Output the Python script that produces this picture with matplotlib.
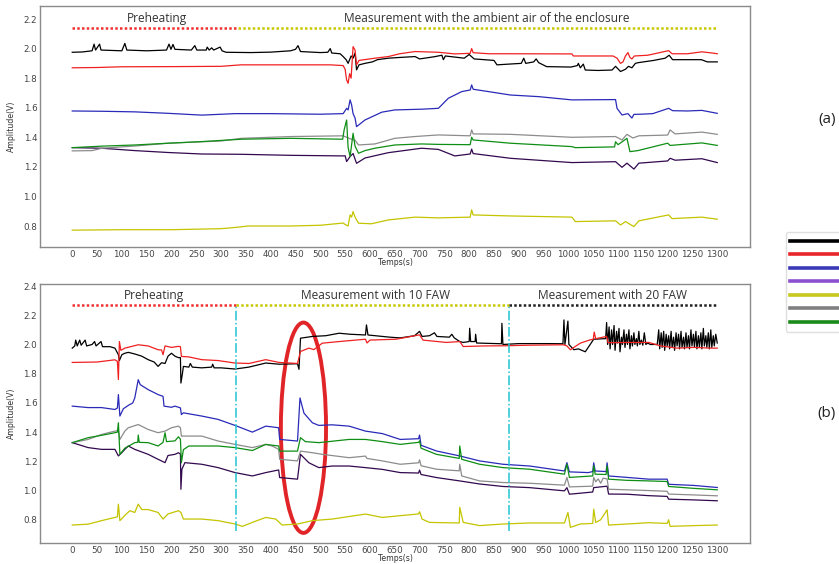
#!/usr/bin/env python3

import matplotlib
matplotlib.use("Agg")
from matplotlib import pyplot as plt
from matplotlib.patches import Ellipse
from matplotlib.lines import Line2D

# ---- panel (a): ambient air of the enclosure -> (time s, amplitude V)
black_a = [(0, 1.975), (20, 1.977), (40, 1.985), (44, 2.03), (47, 1.99), (55, 2.03), (58, 1.99),
           (100, 1.985), (106, 2.035), (110, 1.99), (150, 1.985), (190, 1.99), (195, 2.03),
           (199, 1.995), (203, 2.028), (207, 1.995), (240, 1.99), (247, 2.02), (251, 1.99),
           (270, 1.99), (272, 2.01), (276, 1.99), (281, 2.005), (285, 1.99), (298, 2.01),
           (302, 1.985), (310, 1.975), (360, 1.973), (400, 1.976), (440, 1.985), (450, 1.995),
           (455, 2.02), (460, 1.98), (500, 1.973), (515, 1.975), (520, 2.0), (523, 1.97),
           (540, 1.965), (546, 1.946), (552, 1.925), (556, 1.90), (562, 1.95), (566, 1.935),
           (570, 1.97), (573, 1.856), (578, 1.89), (590, 1.90), (605, 1.91), (615, 1.925),
           (637, 1.935), (660, 1.94), (691, 1.946), (700, 1.93), (730, 1.945), (745, 1.955),
           (748, 1.925), (752, 1.95), (790, 1.935), (800, 1.96), (810, 1.93), (850, 1.92),
           (856, 1.89), (880, 1.895), (905, 1.90), (910, 1.935), (914, 1.90), (930, 1.91),
           (935, 1.93), (940, 1.905), (956, 1.878), (1005, 1.875), (1018, 1.885), (1020, 1.90),
           (1024, 1.87), (1030, 1.895), (1034, 1.855), (1060, 1.852), (1088, 1.855),
           (1095, 1.88), (1105, 1.845), (1115, 1.86), (1121, 1.88), (1128, 1.87), (1135, 1.90),
           (1141, 1.905), (1172, 1.92), (1195, 1.935), (1203, 1.955), (1210, 1.925),
           (1240, 1.925), (1268, 1.925), (1280, 1.91), (1300, 1.91)]
red_a = [(0, 1.87), (50, 1.872), (100, 1.877), (200, 1.878), (300, 1.88), (340, 1.89), (440, 1.89),
         (520, 1.89), (546, 1.885), (550, 1.86), (553, 1.788), (556, 1.765), (559, 1.83),
         (562, 1.80), (566, 2.013), (570, 1.99), (573, 1.89), (578, 1.92), (610, 1.935),
         (637, 1.946), (660, 1.965), (691, 1.98), (738, 1.975), (771, 1.964), (802, 1.968),
         (805, 2.0), (808, 1.972), (840, 1.965), (883, 1.965), (1007, 1.964), (1010, 1.95),
         (1090, 1.95), (1098, 1.935), (1105, 1.90), (1110, 1.91), (1115, 1.95), (1120, 1.973),
         (1124, 1.94), (1128, 1.93), (1133, 1.95), (1160, 1.955), (1202, 1.986), (1209, 1.965),
         (1240, 1.965), (1269, 1.978), (1290, 1.97), (1300, 1.965)]
blue_a = [(0, 1.578), (60, 1.576), (126, 1.572), (194, 1.562), (261, 1.55), (328, 1.56), (400, 1.56),
          (500, 1.556), (546, 1.56), (553, 1.596), (556, 1.585), (560, 1.653), (563, 1.62),
          (566, 1.56), (570, 1.53), (573, 1.472), (590, 1.517), (624, 1.57), (650, 1.585),
          (704, 1.59), (738, 1.596), (758, 1.664), (785, 1.709), (802, 1.72), (805, 1.754),
          (808, 1.725), (839, 1.709), (883, 1.686), (940, 1.675), (1007, 1.653), (1095, 1.655),
          (1098, 1.596), (1108, 1.551), (1120, 1.56), (1128, 1.53), (1132, 1.555), (1145, 1.556),
          (1170, 1.56), (1202, 1.596), (1210, 1.58), (1240, 1.578), (1269, 1.582), (1300, 1.562)]
purple_a = [(0, 1.33), (59, 1.326), (126, 1.31), (194, 1.297), (261, 1.287), (341, 1.285),
            (440, 1.278), (546, 1.274), (550, 1.275), (553, 1.236), (560, 1.27), (566, 1.29),
            (573, 1.224), (590, 1.26), (637, 1.296), (704, 1.326), (738, 1.318), (771, 1.274),
            (802, 1.287), (805, 1.32), (808, 1.29), (883, 1.258), (1007, 1.229), (1095, 1.235),
            (1108, 1.197), (1118, 1.225), (1132, 1.185), (1142, 1.225), (1200, 1.24),
            (1205, 1.258), (1215, 1.245), (1269, 1.255), (1300, 1.229)]
yellow_a = [(0, 0.772), (100, 0.775), (200, 0.775), (300, 0.782), (328, 0.79), (355, 0.80),
            (440, 0.80), (500, 0.805), (546, 0.82), (550, 0.81), (556, 0.80), (560, 0.875),
            (563, 0.86), (566, 0.898), (570, 0.86), (577, 0.819), (603, 0.815), (637, 0.841),
            (691, 0.86), (738, 0.855), (802, 0.86), (805, 0.909), (808, 0.875), (883, 0.868),
            (1007, 0.86), (1014, 0.83), (1095, 0.835), (1105, 0.807), (1115, 0.83),
            (1132, 0.796), (1142, 0.835), (1202, 0.875), (1209, 0.85), (1269, 0.86),
            (1300, 0.846)]
gray_a = [(0, 1.308), (40, 1.31), (60, 1.326), (126, 1.341), (194, 1.36), (300, 1.375), (341, 1.393),
          (440, 1.405), (546, 1.41), (560, 1.39), (570, 1.38), (577, 1.348), (610, 1.355),
          (650, 1.393), (690, 1.405), (738, 1.416), (802, 1.41), (805, 1.45), (808, 1.423),
          (883, 1.42), (1007, 1.40), (1095, 1.405), (1108, 1.382), (1118, 1.42), (1130, 1.395),
          (1142, 1.41), (1200, 1.415), (1205, 1.45), (1215, 1.423), (1269, 1.435), (1300, 1.42)]
green_a = [(0, 1.33), (59, 1.34), (126, 1.348), (194, 1.36), (261, 1.371), (341, 1.387), (440, 1.393),
           (545, 1.387), (548, 1.45), (553, 1.517), (556, 1.33), (560, 1.27), (566, 1.427),
           (570, 1.34), (577, 1.292), (590, 1.31), (610, 1.326), (650, 1.348), (704, 1.355),
           (738, 1.352), (802, 1.35), (805, 1.40), (808, 1.382), (883, 1.36), (1007, 1.337),
           (1014, 1.33), (1093, 1.335), (1095, 1.37), (1100, 1.35), (1118, 1.393),
           (1124, 1.303), (1140, 1.31), (1200, 1.36), (1205, 1.345), (1269, 1.362),
           (1300, 1.345)]

# ---- panel (b): 10 FAW then 20 FAW
black_b = [(0, 1.975), (5, 1.99), (7, 2.03), (10, 1.99), (15, 2.03), (18, 1.995), (26, 2.03),
           (29, 1.99), (40, 2.0), (45, 2.02), (48, 1.99), (58, 2.02), (61, 1.985), (76, 1.985),
           (86, 1.975), (93, 1.93), (95, 1.89), (100, 1.93), (106, 1.94), (113, 1.946),
           (126, 1.935), (140, 1.92), (153, 1.896), (165, 1.88), (173, 1.85), (180, 1.875),
           (187, 1.87), (193, 1.92), (200, 1.94), (207, 1.92), (214, 1.91), (218, 1.91),
           (219, 1.736), (222, 1.80), (224, 1.85), (235, 1.845), (238, 1.87), (242, 1.845),
           (261, 1.84), (281, 1.845), (283, 1.865), (286, 1.84), (300, 1.84), (328, 1.832),
           (356, 1.845), (390, 1.873), (417, 1.865), (454, 1.868), (457, 1.83), (460, 2.043),
           (484, 2.055), (511, 2.06), (538, 2.077), (560, 2.07), (591, 2.065), (593, 2.134),
           (596, 2.065), (640, 2.05), (661, 2.045), (690, 2.06), (700, 2.09), (705, 2.055),
           (720, 2.06), (730, 2.08), (735, 2.055), (760, 2.05), (765, 2.07), (770, 2.045),
           (781, 2.02), (788, 2.014), (800, 2.02), (801, 2.111), (803, 2.02), (812, 2.02),
           (813, 2.07), (815, 2.01), (865, 2.005), (866, 2.145), (868, 2.0), (900, 2.006),
           (960, 2.006), (989, 2.005), (991, 2.168), (993, 2.0), (999, 2.16), (1001, 2.0),
           (1011, 1.964), (1020, 1.97), (1034, 1.95), (1044, 2.00), (1051, 2.036), (1075, 2.04),
           (1077, 2.15), (1079, 2.0), (1082, 2.12), (1084, 1.97), (1087, 2.10), (1089, 2.0),
           (1092, 2.13), (1094, 1.96), (1097, 2.09), (1099, 2.01), (1102, 2.11), (1104, 1.95),
           (1107, 2.05), (1109, 2.0), (1112, 2.10), (1114, 1.98), (1117, 2.07), (1119, 2.0),
           (1122, 2.10), (1124, 1.97), (1127, 2.06), (1129, 1.99), (1132, 2.08), (1134, 2.0),
           (1137, 2.04), (1139, 1.99), (1142, 2.09), (1144, 2.0), (1147, 2.03), (1150, 1.995),
           (1153, 2.08), (1156, 2.0), (1160, 2.01), (1165, 2.0), (1175, 2.0), (1179, 2.0),
           (1182, 2.10), (1184, 1.97), (1187, 2.08), (1189, 1.98), (1192, 2.09), (1194, 1.96),
           (1197, 2.07), (1199, 1.99), (1202, 2.06), (1204, 1.97), (1207, 2.09), (1209, 1.98),
           (1212, 2.05), (1214, 1.96), (1217, 2.08), (1219, 1.99), (1222, 2.07), (1224, 1.97),
           (1227, 2.09), (1229, 1.98), (1232, 2.05), (1234, 1.97), (1237, 2.08), (1239, 1.98),
           (1242, 2.06), (1244, 1.97), (1247, 2.10), (1249, 1.99), (1252, 2.07), (1254, 1.98),
           (1257, 2.09), (1259, 1.97), (1262, 2.06), (1264, 1.98), (1267, 2.08), (1269, 1.97),
           (1272, 2.11), (1274, 1.99), (1277, 2.06), (1279, 1.98), (1282, 2.08), (1284, 1.97),
           (1287, 2.10), (1289, 1.98), (1292, 2.06), (1294, 1.99), (1297, 2.07), (1300, 2.01)]
red_b = [(0, 1.877), (50, 1.88), (86, 1.895), (91, 1.885), (93, 1.76), (95, 2.02), (98, 1.96),
         (106, 1.975), (133, 1.998), (153, 1.99), (173, 1.964), (180, 1.962), (183, 1.93),
         (187, 1.99), (200, 1.98), (214, 1.987), (218, 1.985), (220, 1.918), (235, 1.915),
         (261, 1.896), (294, 1.89), (328, 1.873), (356, 1.87), (390, 1.896), (417, 1.877),
         (454, 1.87), (460, 1.952), (477, 1.975), (487, 1.965), (504, 2.009), (538, 2.02),
         (591, 2.036), (594, 2.01), (600, 2.03), (653, 2.036), (700, 2.066), (707, 2.03),
         (754, 2.014), (781, 2.02), (788, 1.986), (830, 1.99), (868, 1.991), (920, 1.995),
         (990, 1.998), (997, 1.99), (1004, 1.964), (1011, 1.98), (1024, 2.009), (1044, 2.032),
         (1050, 2.035), (1052, 2.085), (1055, 2.04), (1077, 2.055), (1080, 2.012),
         (1118, 2.014), (1162, 2.014), (1186, 1.99), (1219, 1.975), (1253, 1.98),
         (1286, 1.975), (1300, 1.975)]
blue_b = [(0, 1.578), (32, 1.568), (59, 1.568), (86, 1.555), (91, 1.565), (93, 1.657), (96, 1.51),
          (103, 1.56), (113, 1.583), (122, 1.60), (126, 1.634), (133, 1.759), (137, 1.725),
          (153, 1.691), (173, 1.657), (183, 1.645), (185, 1.578), (200, 1.57), (207, 1.578),
          (218, 1.566), (220, 1.52), (224, 1.532), (261, 1.51), (294, 1.487), (328, 1.446),
          (363, 1.40), (390, 1.441), (416, 1.43), (418, 1.35), (454, 1.339), (459, 1.634),
          (467, 1.53), (484, 1.464), (497, 1.446), (524, 1.45), (558, 1.441), (591, 1.407),
          (625, 1.39), (661, 1.35), (698, 1.355), (700, 1.38), (703, 1.31), (734, 1.271),
          (781, 1.237), (821, 1.203), (868, 1.18), (922, 1.168), (992, 1.134), (997, 1.191),
          (1002, 1.128), (1040, 1.123), (1049, 1.13), (1051, 1.19), (1054, 1.134),
          (1076, 1.13), (1078, 1.19), (1081, 1.10), (1118, 1.09), (1162, 1.078), (1199, 1.078),
          (1202, 1.043), (1253, 1.035), (1300, 1.021)]
purple_b = [(0, 1.328), (32, 1.294), (59, 1.282), (86, 1.282), (93, 1.237), (100, 1.26),
            (106, 1.282), (113, 1.305), (126, 1.282), (153, 1.248), (173, 1.214), (187, 1.191),
            (193, 1.24), (207, 1.248), (214, 1.259), (218, 1.25), (219, 1.009), (221, 1.146),
            (227, 1.191), (261, 1.18), (294, 1.157), (328, 1.123), (363, 1.10), (390, 1.123),
            (416, 1.141), (418, 1.089), (454, 1.078), (460, 1.248), (477, 1.19), (497, 1.157),
            (524, 1.168), (558, 1.168), (591, 1.157), (625, 1.145), (661, 1.123), (698, 1.12),
            (700, 1.14), (703, 1.11), (734, 1.089), (781, 1.066), (821, 1.045), (868, 1.028),
            (922, 1.02), (992, 0.998), (997, 1.02), (1002, 0.975), (1049, 0.99), (1051, 1.02),
            (1078, 1.03), (1081, 0.976), (1118, 0.975), (1162, 0.965), (1199, 0.96),
            (1202, 0.941), (1253, 0.936), (1300, 0.93)]
yellow_b = [(0, 0.764), (32, 0.77), (59, 0.794), (86, 0.816), (91, 0.82), (93, 0.907), (96, 0.794),
            (106, 0.83), (116, 0.862), (126, 0.85), (133, 0.907), (140, 0.87), (153, 0.87),
            (173, 0.85), (183, 0.805), (193, 0.84), (214, 0.862), (219, 0.85), (224, 0.805),
            (261, 0.805), (294, 0.794), (328, 0.771), (343, 0.755), (363, 0.782), (390, 0.816),
            (410, 0.805), (423, 0.764), (454, 0.771), (484, 0.794), (524, 0.805), (591, 0.839),
            (625, 0.816), (661, 0.828), (698, 0.84), (700, 0.855), (705, 0.805), (720, 0.782),
            (780, 0.778), (781, 0.885), (788, 0.782), (821, 0.76), (868, 0.771), (922, 0.778),
            (992, 0.778), (999, 0.85), (1004, 0.748), (1024, 0.771), (1049, 0.775),
            (1051, 0.873), (1055, 0.782), (1065, 0.80), (1078, 0.868), (1081, 0.764),
            (1118, 0.771), (1162, 0.78), (1199, 0.775), (1202, 0.80), (1205, 0.755),
            (1253, 0.76), (1300, 0.764)]
gray_b = [(0, 1.328), (32, 1.35), (59, 1.384), (86, 1.407), (93, 1.41), (96, 1.35), (106, 1.407),
          (113, 1.43), (133, 1.452), (153, 1.418), (173, 1.396), (187, 1.407), (200, 1.43),
          (214, 1.441), (218, 1.43), (220, 1.373), (261, 1.373), (294, 1.339), (328, 1.316),
          (363, 1.294), (390, 1.316), (403, 1.305), (416, 1.282), (418, 1.214), (454, 1.203),
          (460, 1.27), (484, 1.259), (504, 1.248), (558, 1.225), (591, 1.236), (594, 1.22),
          (625, 1.203), (661, 1.18), (698, 1.19), (700, 1.21), (703, 1.17), (734, 1.146),
          (780, 1.135), (781, 1.18), (785, 1.10), (821, 1.066), (868, 1.055), (922, 1.05),
          (992, 1.037), (997, 1.09), (1002, 1.025), (1049, 1.03), (1051, 1.09), (1055, 1.06),
          (1060, 1.08), (1065, 1.05), (1070, 1.085), (1078, 1.08), (1081, 1.009), (1118, 1.005),
          (1162, 1.0), (1199, 0.995), (1202, 0.976), (1253, 0.97), (1300, 0.964)]
green_b = [(0, 1.328), (32, 1.362), (59, 1.378), (86, 1.396), (91, 1.40), (93, 1.464), (96, 1.248),
           (106, 1.29), (126, 1.328), (132, 1.33), (133, 1.38), (135, 1.33), (153, 1.328),
           (173, 1.305), (183, 1.33), (187, 1.396), (190, 1.335), (207, 1.34), (214, 1.368),
           (218, 1.352), (220, 1.191), (224, 1.28), (235, 1.305), (294, 1.305), (328, 1.294),
           (363, 1.274), (390, 1.316), (416, 1.305), (418, 1.27), (454, 1.27), (460, 1.362),
           (470, 1.335), (497, 1.328), (558, 1.35), (591, 1.35), (625, 1.335), (661, 1.316),
           (698, 1.33), (700, 1.34), (703, 1.29), (734, 1.248), (780, 1.22), (781, 1.305),
           (785, 1.214), (821, 1.18), (868, 1.157), (922, 1.146), (992, 1.112), (997, 1.18),
           (1002, 1.09), (1049, 1.10), (1051, 1.17), (1054, 1.112), (1076, 1.11), (1078, 1.17),
           (1081, 1.078), (1118, 1.07), (1162, 1.066), (1199, 1.062), (1202, 1.028),
           (1253, 1.015), (1300, 1.005)]

# phases: (start, end, colour) and the captions above them
phases_a = [(0, 335, "#f03030"), (335, 1300, "#c8c800")]
captions_a = [(170, "Preheating"), (835, "Measurement with the ambient air of the enclosure")]
phases_b = [(0, 330, "#f03030"), (330, 880, "#c8c800"), (880, 1300, "#202020")]
captions_b = [(165, "Preheating"), (611, "Measurement with 10 FAW"), (1088, "Measurement with 20 FAW")]
switch_times_b = [330, 880]

x_ticks = list(range(0, 1301, 50))
y_ticks_a = [0.8, 1.0, 1.2, 1.4, 1.6, 1.8, 2.0, 2.2]
y_ticks_b = [0.8, 1.0, 1.2, 1.4, 1.6, 1.8, 2.0, 2.2, 2.4]

line_colors = ["#000000", "#f02020", "#2a2ab8", "#32084e", "#c4c400", "#8c8c8c", "#0e8e14"]
legend_colors = ["#000000", "#e8262a", "#3a3ab8", "#8a50d0", "#c8c81e", "#808080", "#1a8a1a"]


def draw_series(ax, series):
    for data, color in zip(series, line_colors):
        t = [p[0] for p in data]
        v = [p[1] for p in data]
        ax.plot(t, v, color=color, lw=0.9)


def style_axes(ax, yticks, ylim):
    ax.set_xlim(-65, 1366)
    ax.set_ylim(*ylim)
    ax.set_xticks(x_ticks)
    ax.set_yticks(yticks)
    ax.set_yticklabels([f"{y:.1f}" for y in yticks])
    ax.tick_params(labelsize=6.3, colors="#444444", length=0, pad=2)
    for s in ax.spines.values():
        s.set_color("#8a8a8a")
        s.set_linewidth(1.0)
    ax.set_xlabel("Temps(s)", fontsize=5.6, color="#333333", labelpad=-0.5)
    ax.set_ylabel("Amplitude(V)", fontsize=5.6, color="#333333", labelpad=5)


def draw_phases(ax, phases, captions, y_line, y_text):
    for t0, t1, c in phases:
        ax.plot([t0, t1], [y_line, y_line], color=c, lw=1.8, ls=(0, (1, 0.9)))
    for t, label in captions:
        ax.text(t, y_text, label, ha="center", va="center", fontsize=8.6,
                color="#333333", family="Open Sans")


def main():
    fig = plt.figure(figsize=(8.39, 5.64), dpi=100)

    ax_a = fig.add_axes([40 / 839, 1 - 247 / 564, 710 / 839, 241 / 564])
    draw_series(ax_a, [black_a, red_a, blue_a, purple_a, yellow_a, gray_a, green_a])
    draw_phases(ax_a, phases_a, captions_a, 2.137, 2.205)
    style_axes(ax_a, y_ticks_a, (0.658, 2.288))

    ax_b = fig.add_axes([40 / 839, 1 - 543 / 564, 710 / 839, 259 / 564])
    draw_series(ax_b, [black_b, red_b, blue_b, purple_b, yellow_b, gray_b, green_b])
    for t in switch_times_b:
        ax_b.plot([t, t], [0.725, 2.255], color="#22c4d2", lw=1.1, ls="-.")
    draw_phases(ax_b, phases_b, captions_b, 2.27, 2.335)
    ax_b.add_patch(Ellipse((466, 1.43), 91, 1.44, fill=False, edgecolor="#e02428", lw=2.8))
    style_axes(ax_b, y_ticks_b, (0.641, 2.414))

    # legend box cut by the figure edge, only the swatches show
    handles = [Line2D([], [], color=c, lw=2.6) for c in legend_colors]
    fig.legend(handles, [" "] * len(handles), loc="upper left",
               bbox_to_anchor=(781 / 839, 1 - 227 / 564), fontsize=7,
               handlelength=8, labelspacing=0.36, borderpad=0.45,
               frameon=True, edgecolor="#d8d8d8", fancybox=True)

    fig.text(827 / 839, 1 - 120 / 564, "(a)", ha="center", va="center",
             fontsize=11, color="#222222", family="Open Sans")
    fig.text(827 / 839, 1 - 413 / 564, "(b)", ha="center", va="center",
             fontsize=11, color="#222222", family="Open Sans")

    fig.savefig("out.png", dpi=100, facecolor="white")


if __name__ == "__main__":
    main()
